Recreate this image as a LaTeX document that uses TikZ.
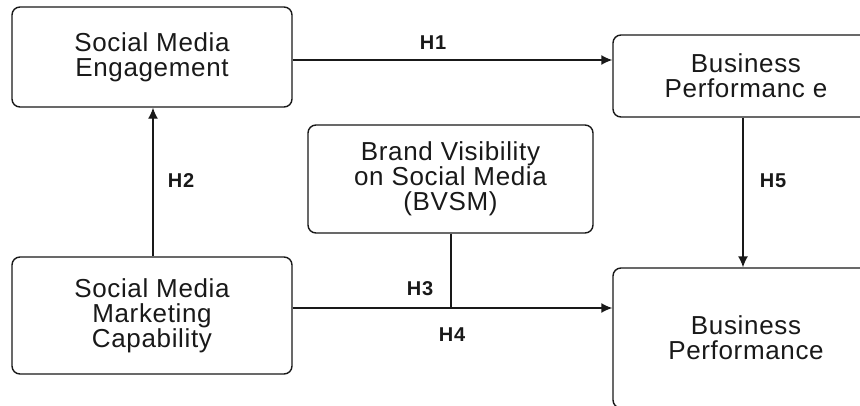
\documentclass[tikz,border=0pt]{standalone}
\usepackage{fontspec}
\setmainfont{Liberation Sans}
\newfontfamily\boxfont[LetterSpace=2.5]{Liberation Sans}
\newfontfamily\lblfont[LetterSpace=4]{Liberation Sans}
\usetikzlibrary{arrows.meta}
\begin{document}
\begin{tikzpicture}[x=1pt,y=-1pt,
  box/.style={draw=black!90, line width=1.4pt, rounded corners=8pt, align=center,
    font=\boxfont\fontsize{26}{25}\selectfont, text=black!90, inner sep=0pt},
  lbl/.style={font=\lblfont\bfseries\fontsize{20}{20}\selectfont, text=black!90, inner sep=0pt},
  conn/.style={line width=1.4pt, draw=black!90},
  arr/.style={conn, -{Latex[length=11pt,width=10pt]}}]
\clip (0,0) rectangle (860,405);
\fill[white] (0,0) rectangle (860,405);
\node[box, minimum width=280pt, minimum height=100pt] (sme) at (152,57) {Social Media\\Engagement};
\node[box, minimum width=266pt, minimum height=82pt] (bp1) at (746,76) {Business\\Performanc e};
\node[box, minimum width=285pt, minimum height=108pt] (bvsm) at (450.5,179) {Brand Visibility\\on Social Media\\(BVSM)};
\node[box, minimum width=280pt, minimum height=117pt] (smmc) at (152,315.5) {Social Media\\Marketing\\Capability};
\node[box, minimum width=266pt, minimum height=140pt] (bp2) at (746,338) {Business\\Performance};
\draw[arr] (sme.east |- 0,60) -- (bp1.west |- 0,60);
\node[lbl] (h1) at (433,43) {H1};
\draw[arr] (smmc.north -| 153,0) -- (sme.south -| 153,0);
\node[lbl] (h2) at (181,181) {H2};
\draw[arr] (smmc.east |- 0,308) -- (bp2.west |- 0,308);
\coordinate (mod) at (451,308);
\draw[conn] (bvsm.south -| mod) -- (mod);
\node[lbl] (h3) at (420,289) {H3};
\node[lbl] (h4) at (452,335) {H4};
\draw[arr] (bp1.south -| 743,0) -- (bp2.north -| 743,0);
\node[lbl] (h5) at (773,181) {H5};
\end{tikzpicture}
\end{document}
